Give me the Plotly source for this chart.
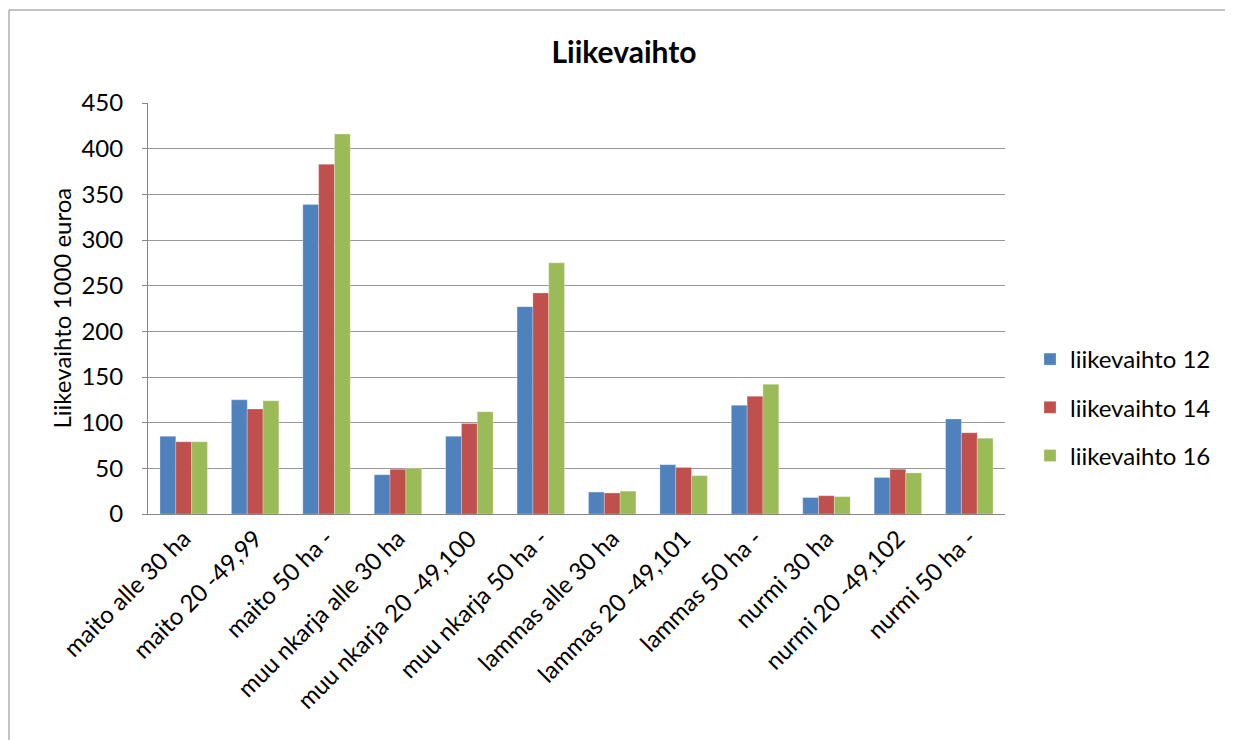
import plotly.graph_objects as go

categories = ["maito alle 30 ha", "maito 20 -49,99", "maito 50 ha -",
              "muu nkarja alle 30 ha", "muu nkarja 20 -49,100", "muu nkarja 50 ha -",
              "lammas alle 30 ha", "lammas 20 -49,101", "lammas 50 ha -",
              "nurmi 30 ha", "nurmi 20 -49,102", "nurmi 50 ha -"]
liikevaihto_12 = [85, 125, 339, 43, 85, 227, 24, 54, 119, 18, 40, 104]
liikevaihto_14 = [79, 115, 383, 49, 99, 242, 23, 51, 129, 20, 49, 89]
liikevaihto_16 = [79, 124, 416, 50, 112, 275, 25, 42, 142, 19, 45, 83]
series_names = ["liikevaihto 12", "liikevaihto 14", "liikevaihto 16"]
colors = ["#4F81BD", "#C0504D", "#9BBB59"]
y_ticks = [0, 50, 100, 150, 200, 250, 300, 350, 400, 450]

FONT = "Lato, 'Open Sans', sans-serif"

fig = go.Figure()
for i, (name, vals) in enumerate(zip(series_names, [liikevaihto_12, liikevaihto_14, liikevaihto_16])):
    fig.add_trace(go.Bar(x=categories, y=vals, name=name, legendgroup=name,
                         marker=dict(color=colors[i], line=dict(color="rgba(255,255,255,0.5)", width=0.5))))

OFF = 8  # page body margin
W, H = 1233, 740
# target screen coordinates converted to figure coordinates
L, R, T, B = 148 - OFF, 1005 - OFF, 103 - OFF, 514 - OFF
pw, ph = R - L, B - T

def px(x):
    return (x - OFF - L) / pw

def py(y):
    return (B - (y - OFF)) / ph

fig.update_layout(
    width=W, height=H,
    margin=dict(l=L, r=W - R, t=T, b=H - B),
    paper_bgcolor="white", plot_bgcolor="white",
    font=dict(family=FONT, size=24, color="black"),
    barmode="group", bargap=0.336, bargroupgap=0,
    title=dict(text="<b>Liikevaihto</b>", font=dict(size=30, family=FONT),
               x=px(624), xref="paper", xanchor="center",
               y=1 - (52 - OFF) / H, yref="container", yanchor="middle"),
    legend=dict(x=px(1030), y=py(337), xanchor="left", yanchor="top",
                font=dict(size=24), traceorder="grouped", tracegroupgap=14,
                itemwidth=30, bgcolor="rgba(0,0,0,0)"),
    showlegend=True,
    xaxis=dict(tickangle=-45, showline=True, linecolor="#868686", linewidth=1,
               ticks="", showgrid=False, tickfont=dict(size=24)),
    yaxis=dict(range=[0, 450], tickvals=y_ticks, showline=True, linecolor="#868686",
               linewidth=1, ticks="outside", ticklen=5, tickcolor="#868686",
               ticklabelstandoff=14,
               gridcolor="#979797", gridwidth=1, tickfont=dict(size=24), zeroline=False),
    annotations=[dict(text="Liikevaihto 1000 euroa", textangle=-90, x=px(61), y=0.5,
                      xref="paper", yref="paper", showarrow=False,
                      font=dict(size=24), xanchor="center", yanchor="middle")],
    shapes=[dict(type="rect", xref="paper", yref="paper",
                 x0=px(9), x1=px(1228), y0=py(800), y1=py(10),
                 line=dict(color="#868686", width=1), fillcolor="rgba(0,0,0,0)")],
)

fig.write_html("out.html")
